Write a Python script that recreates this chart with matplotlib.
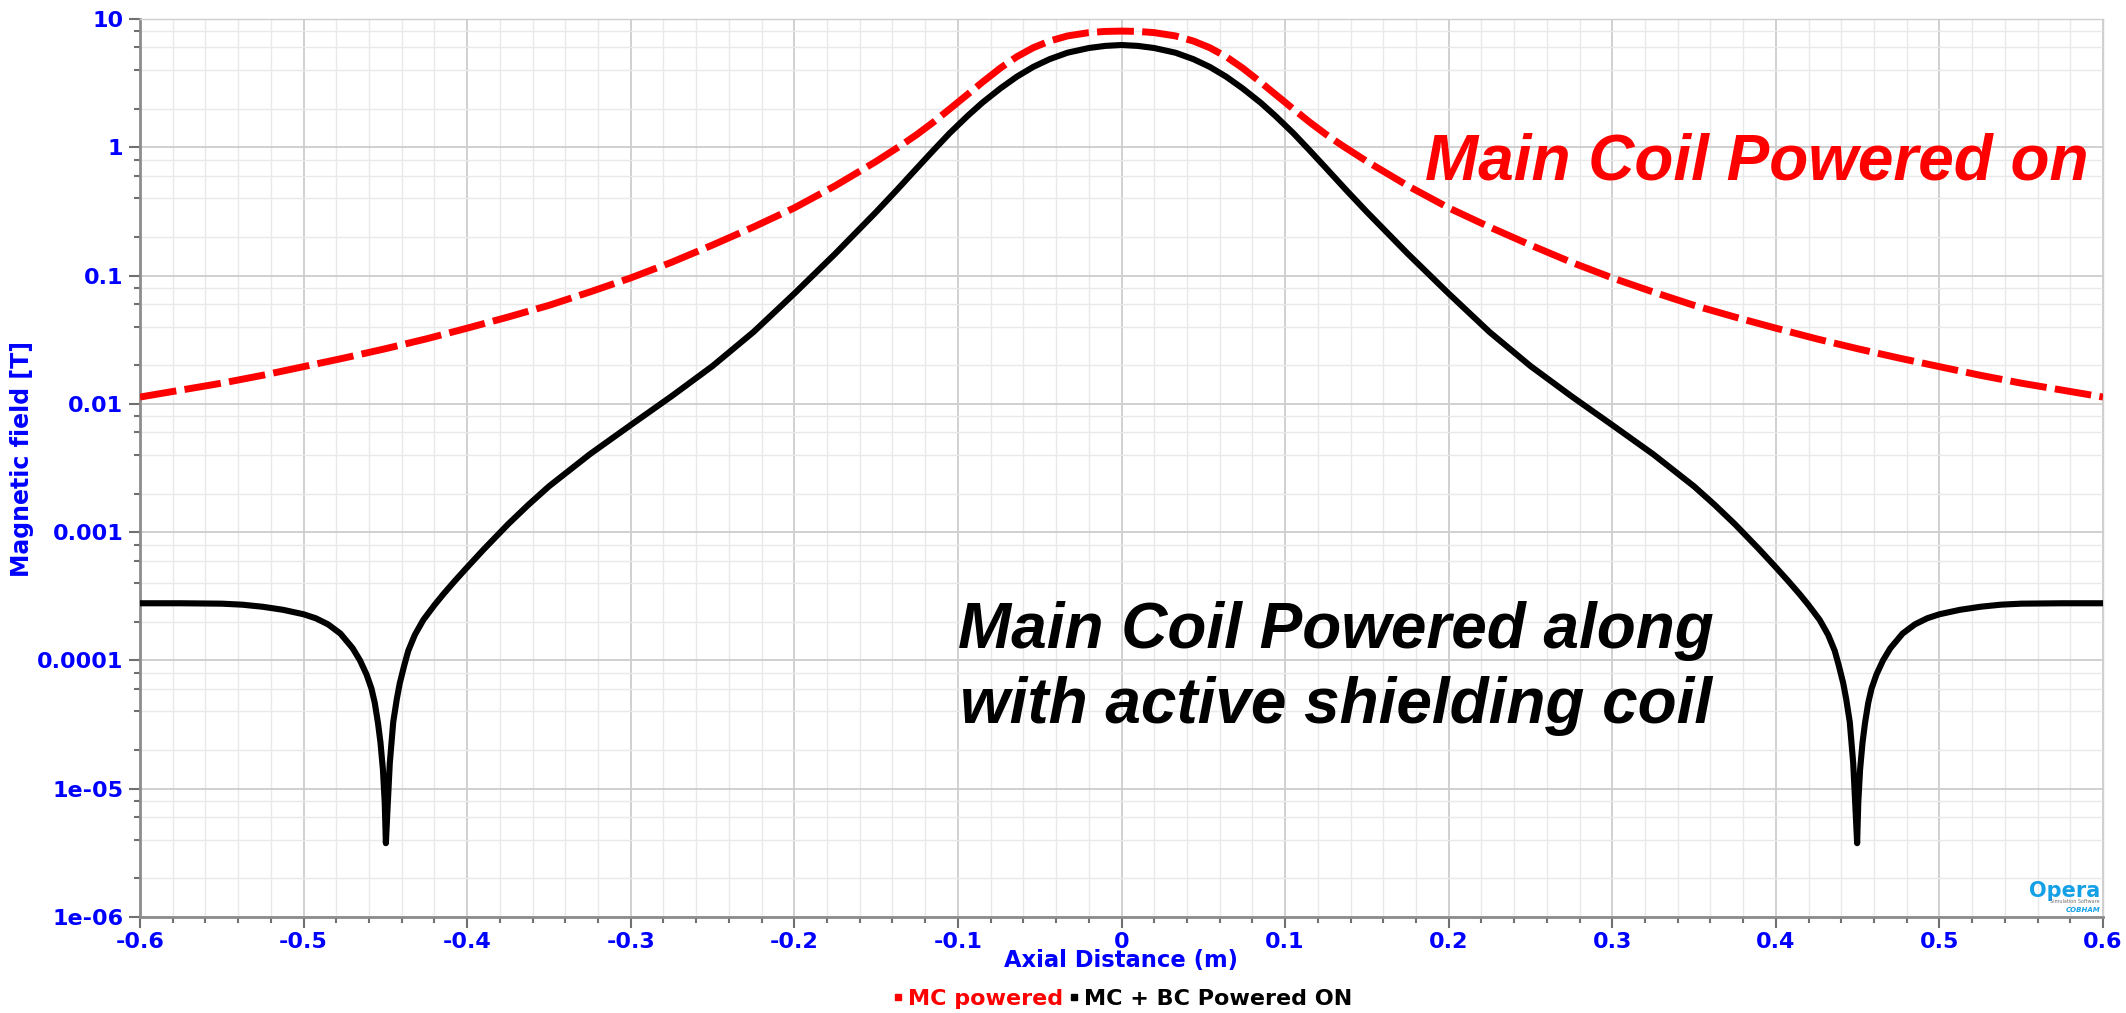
import matplotlib
matplotlib.use("Agg")
import matplotlib.pyplot as plt
from matplotlib.lines import Line2D
from matplotlib.ticker import FixedLocator, FixedFormatter, MultipleLocator, LogLocator, NullFormatter

# axial position (m) and on-axis field (T), main coil only
x_mc = [-0.600, -0.575, -0.550, -0.525, -0.500, -0.475, -0.450, -0.425, -0.400,
        -0.375, -0.350, -0.325, -0.300, -0.275, -0.250, -0.225, -0.200, -0.175,
        -0.150, -0.135, -0.125, -0.115, -0.105, -0.094, -0.085, -0.074, -0.064,
        -0.054, -0.044, -0.033, -0.020, -0.010, 0.000,
        0.010, 0.020, 0.033, 0.044, 0.054, 0.064, 0.074, 0.085, 0.094, 0.105,
        0.115, 0.125, 0.135, 0.150, 0.175, 0.200, 0.225, 0.250, 0.275, 0.300,
        0.325, 0.350, 0.375, 0.400, 0.425, 0.450, 0.475, 0.500, 0.525, 0.550,
        0.575, 0.600]
b_mc = [0.0113, 0.0128, 0.0145, 0.0167, 0.0195, 0.0228, 0.0269, 0.0321, 0.0389,
        0.0475, 0.0586, 0.0745, 0.0959, 0.127, 0.173, 0.239, 0.337, 0.501,
        0.776, 1.03, 1.26, 1.57, 1.99, 2.59, 3.22, 4.15, 5.08,
        5.97, 6.73, 7.38, 7.83, 8.00, 8.05,
        8.00, 7.83, 7.38, 6.73, 5.97, 5.08, 4.15, 3.22, 2.59, 1.99,
        1.57, 1.26, 1.03, 0.776, 0.501, 0.337, 0.239, 0.173, 0.127, 0.0959,
        0.0745, 0.0586, 0.0475, 0.0389, 0.0321, 0.0269, 0.0228, 0.0195, 0.0167, 0.0145,
        0.0128, 0.0113]

# main coil + bucking (active shielding) coil
x_bc = [-0.600, -0.575, -0.550, -0.5375, -0.525, -0.5125, -0.500, -0.4925, -0.485,
        -0.4775, -0.470, -0.4655, -0.4615, -0.4585, -0.4565, -0.4545, -0.4530,
        -0.4515, -0.4504, -0.4497, -0.4485, -0.4473, -0.4452, -0.4430, -0.4412,
        -0.4385, -0.4360, -0.4320, -0.4268, -0.4200, -0.4146, -0.4075, -0.4003,
        -0.390, -0.375, -0.3625, -0.350, -0.325, -0.300, -0.275, -0.250, -0.225,
        -0.200, -0.175, -0.150, -0.1375, -0.125, -0.115, -0.105, -0.094, -0.085,
        -0.074, -0.064, -0.054, -0.044, -0.033, -0.020, -0.010, 0.000,
        0.010, 0.020, 0.033, 0.044, 0.054, 0.064, 0.074, 0.085, 0.094, 0.105,
        0.115, 0.125, 0.1375, 0.150, 0.175, 0.200, 0.225, 0.250, 0.275, 0.300,
        0.325, 0.350, 0.3625, 0.375, 0.390, 0.4003, 0.4075, 0.4146, 0.4200, 0.4268,
        0.4320, 0.4360, 0.4385, 0.4412, 0.4430, 0.4452, 0.4473, 0.4485, 0.4497,
        0.4504, 0.4515, 0.4530, 0.4545, 0.4565, 0.4585, 0.4615, 0.4655, 0.470,
        0.4775, 0.485, 0.4925, 0.500, 0.5125, 0.525, 0.5375, 0.550, 0.575, 0.600]
b_bc = [2.79e-4, 2.79e-4, 2.77e-4, 2.72e-4, 2.62e-4, 2.48e-4, 2.29e-4, 2.13e-4, 1.91e-4,
        1.62e-4, 1.245e-4, 1.0e-4, 7.76e-5, 6.03e-5, 4.68e-5, 3.24e-5, 2.29e-5,
        1.41e-5, 7.8e-6, 3.76e-6, 7.8e-6, 1.58e-5, 3.31e-5, 5.01e-5, 6.64e-5,
        9.12e-5, 1.19e-4, 1.58e-4, 2.07e-4, 2.70e-4, 3.28e-4, 4.17e-4, 5.27e-4,
        7.31e-4, 1.153e-3, 1.637e-3, 2.275e-3, 4.05e-3, 6.84e-3, 1.148e-2, 1.972e-2, 3.63e-2,
        7.24e-2, 0.148, 0.313, 0.462, 0.689, 0.946, 1.29, 1.76, 2.23,
        2.88, 3.55, 4.23, 4.86, 5.46, 5.94, 6.17, 6.27,
        6.17, 5.94, 5.46, 4.86, 4.23, 3.55, 2.88, 2.23, 1.76, 1.29,
        0.946, 0.689, 0.462, 0.313, 0.148, 7.24e-2, 3.63e-2, 1.972e-2, 1.148e-2, 6.84e-3,
        4.05e-3, 2.275e-3, 1.637e-3, 1.153e-3, 7.31e-4, 5.27e-4, 4.17e-4, 3.28e-4, 2.70e-4, 2.07e-4,
        1.58e-4, 1.19e-4, 9.12e-5, 6.64e-5, 5.01e-5, 3.31e-5, 1.58e-5, 7.8e-6, 3.76e-6,
        7.8e-6, 1.41e-5, 2.29e-5, 3.24e-5, 4.68e-5, 6.03e-5, 7.76e-5, 1.0e-4, 1.245e-4,
        1.62e-4, 1.91e-4, 2.13e-4, 2.29e-4, 2.48e-4, 2.62e-4, 2.72e-4, 2.77e-4, 2.79e-4, 2.79e-4]

x_ticks = [-0.6, -0.5, -0.4, -0.3, -0.2, -0.1, 0.0, 0.1, 0.2, 0.3, 0.4, 0.5, 0.6]
x_labels = ["-0.6", "-0.5", "-0.4", "-0.3", "-0.2", "-0.1", "0",
            "0.1", "0.2", "0.3", "0.4", "0.5", "0.6"]
y_ticks = [1e-6, 1e-5, 1e-4, 1e-3, 1e-2, 1e-1, 1, 10]
y_labels = ["1e-06", "1e-05", "0.0001", "0.001", "0.01", "0.1", "1", "10"]

BLUE = "#0000ff"
W, H = 2126, 1013

plt.rcParams["font.family"] = "DejaVu Sans"
plt.rcParams["font.weight"] = "bold"

fig = plt.figure(figsize=(W / 100, H / 100), dpi=100)
ax = fig.add_axes([140 / W, 1 - 917 / H, (2103 - 140) / W, (917 - 19) / H])

ax.plot(x_bc, b_bc, color="black", lw=4.4, solid_joinstyle="round", zorder=3)
ax.plot(x_mc, b_mc, color="#ff0000", lw=5, dashes=(5.3, 1.2), zorder=4)

ax.set_yscale("log")
ax.set_xlim(-0.6, 0.6)
ax.set_ylim(1e-6, 10)

ax.xaxis.set_major_locator(FixedLocator(x_ticks))
ax.xaxis.set_major_formatter(FixedFormatter(x_labels))
ax.xaxis.set_minor_locator(MultipleLocator(0.02))
ax.yaxis.set_major_locator(FixedLocator(y_ticks))
ax.yaxis.set_major_formatter(FixedFormatter(y_labels))
ax.yaxis.set_minor_locator(LogLocator(base=10, subs=[2, 4, 6, 8]))
ax.yaxis.set_minor_formatter(NullFormatter())

ax.set_axisbelow(True)
ax.grid(which="major", color="#cdcdcd", lw=1.3)
ax.grid(which="minor", color="#e9e9e9", lw=1.0)

ax.tick_params(which="both", direction="out", color="#707070", width=1.5,
               labelcolor=BLUE, labelsize=16)
ax.tick_params(which="major", length=8)
ax.tick_params(which="minor", length=4)
ax.tick_params(axis="x", pad=3)
ax.tick_params(axis="y", pad=4)

for side in ["left", "bottom"]:
    ax.spines[side].set_color("#8c8c8c")
    ax.spines[side].set_linewidth(2)
for side in ["top", "right"]:
    ax.spines[side].set_color("#cfcfcf")
    ax.spines[side].set_linewidth(1)

ax.set_xlabel("Axial Distance (m)", color=BLUE, fontsize=16.3, fontweight="bold")
ax.xaxis.set_label_coords(0.5, -0.036)
ax.set_ylabel("Magnetic field [T]", color=BLUE, fontsize=17, fontweight="bold")
ax.yaxis.set_label_coords(-0.054, 0.51)

# legend under the axis label
handles = [Line2D([], [], color="#ff0000", marker="s", ls="None", markersize=5),
           Line2D([], [], color="black", marker="s", ls="None", markersize=5)]
fig.legend(handles, ["MC powered", "MC + BC Powered ON"], loc="center",
           bbox_to_anchor=(1123 / W, 1 - 999 / H), ncol=2, frameon=False,
           fontsize=16, labelcolor=["#ff0000", "black"], handlelength=0.4,
           handletextpad=0.25, columnspacing=0.3, borderpad=0)

# curve annotations
fig.text(1425 / W, 1 - 179 / H, "Main Coil Powered on", color="#ff0000",
         fontsize=46, family="Liberation Sans", weight="bold", style="italic",
         va="baseline", ha="left")
fig.text(958 / W, 1 - 648 / H, "Main Coil Powered along", color="black",
         fontsize=46, family="Liberation Sans", weight="bold", style="italic",
         va="baseline", ha="left")
fig.text(960 / W, 1 - 723 / H, "with active shielding coil", color="black",
         fontsize=46, family="Liberation Sans", weight="bold", style="italic",
         va="baseline", ha="left")

# software logo in the lower right corner
fig.text(2100 / W, 1 - 897 / H, "Opera", color="#14a0e6", fontsize=15,
         weight="bold", ha="right", va="baseline")
fig.text(2100 / W, 1 - 903 / H, "Simulation Software", color="#707070",
         fontsize=3.5, weight="normal", ha="right", va="baseline")
fig.text(2100 / W, 1 - 912 / H, "COBHAM", color="#14a0e6", fontsize=5,
         style="italic", ha="right", va="baseline")

fig.savefig("out.png", dpi=100)
